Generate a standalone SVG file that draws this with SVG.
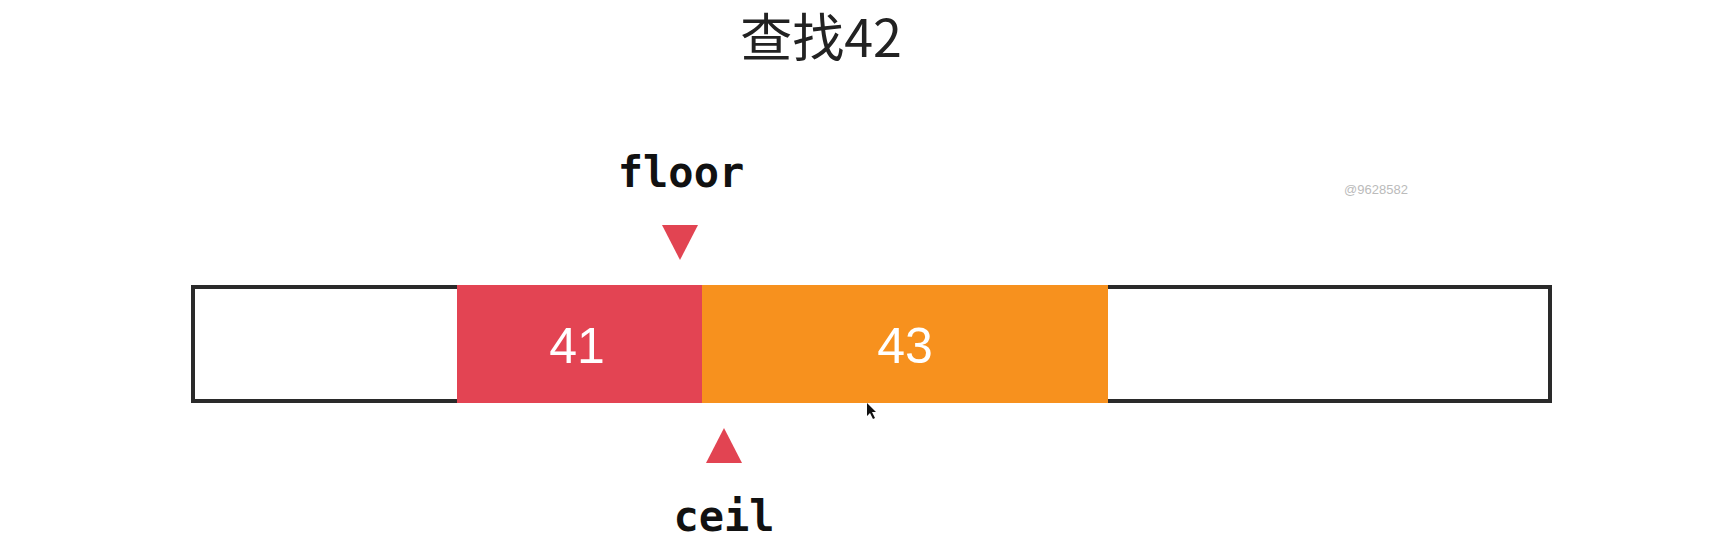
<svg xmlns="http://www.w3.org/2000/svg" width="1720" height="540" viewBox="0 0 1720 540">
<style>
.title{font-family:"Noto Sans CJK SC","Liberation Sans",sans-serif;font-size:52px;fill:#222}
.lbl{font-family:"DejaVu Sans Mono","Liberation Mono",monospace;font-size:42px;font-weight:bold;fill:#111}
.num{font-family:"Liberation Sans",Arial,sans-serif;font-size:50px;fill:#fff}
.tri{fill:#E24452}
.wm{font-family:"Liberation Sans",Arial,sans-serif;font-size:13px;fill:#bbb}
</style>
<rect width="1720" height="540" fill="#fff"/>
<text class="title" x="821" y="57" text-anchor="middle">查找42</text>
<text class="wm" x="1376" y="194" text-anchor="middle">@9628582</text>
<g id="array">
<rect x="193" y="287" width="1357" height="114" fill="#fff" stroke="#2a2a2a" stroke-width="4"/>
</g>
<g id="cell41">
<rect x="457" y="285" width="245" height="118" fill="#E34453"/>
<text class="num" x="577" y="363" text-anchor="middle">41</text>
</g>
<g id="cell43">
<rect x="702" y="285" width="406" height="118" fill="#F7911E"/>
<text class="num" x="905" y="363" text-anchor="middle">43</text>
</g>
<g id="connectors">
<polygon class="tri" points="662,225 698,225 680,260"/>
<polygon class="tri" points="724,428 742,463 706,463"/>
</g>
<g id="floor">
<text class="lbl" x="681" y="187" text-anchor="middle">floor</text>
</g>
<g id="ceil">
<text class="lbl" x="724" y="531" text-anchor="middle">ceil</text>
</g>
<polygon points="867,403 867,416 870,413 873,419 875,418 872,412 876,412" fill="#111"/>
</svg>
